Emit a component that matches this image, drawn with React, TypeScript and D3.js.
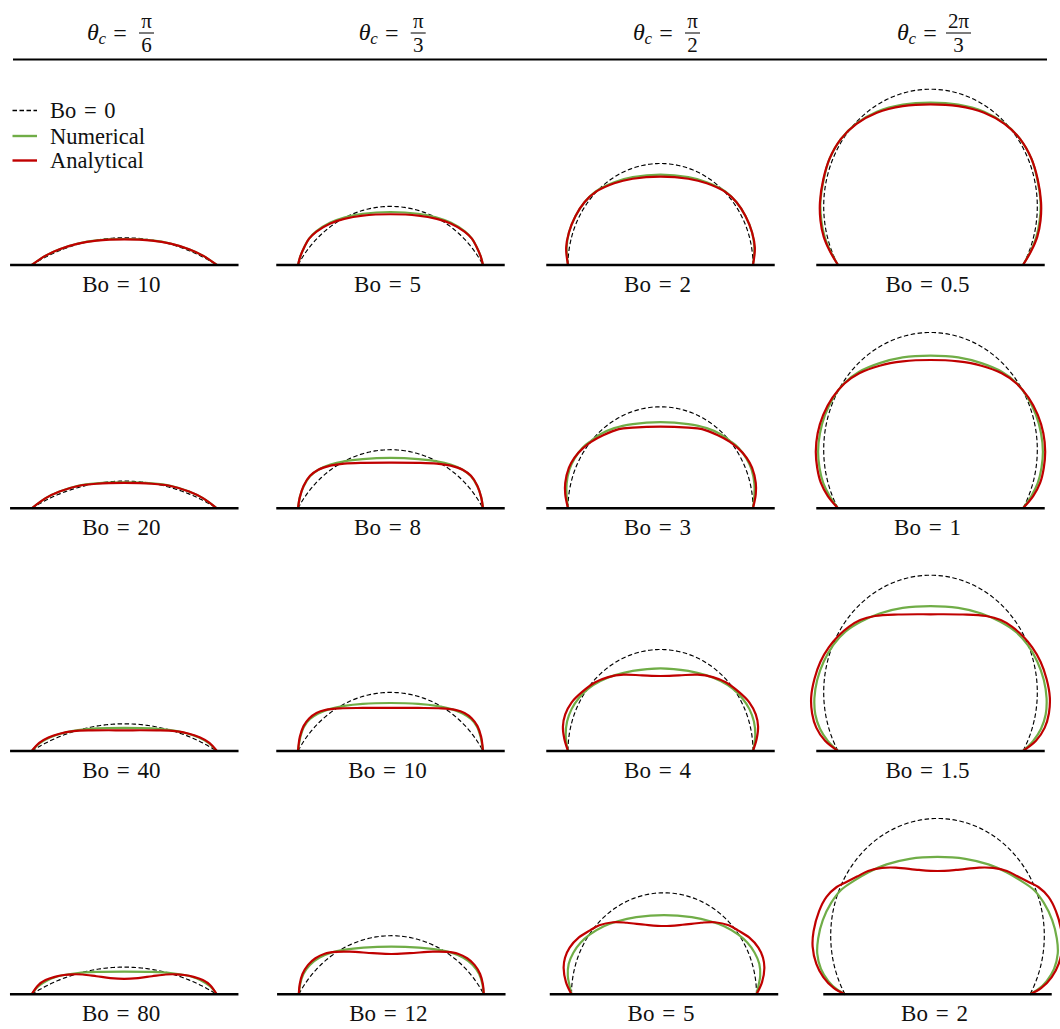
import React from 'react';
import * as d3 from 'd3';

type Pt = [number, number];

// ---------- data ----------
const angleNumerators = ['π', 'π', 'π', '2π'];
const angleDenominators = ['6', '3', '2', '3'];
const contactAngles = [Math.PI / 6, Math.PI / 3, Math.PI / 2, (2 * Math.PI) / 3];

// Bond numbers per column (rows top -> bottom)
const bondPi6 = [10, 20, 40, 80];
const bondPi3 = [5, 8, 10, 12];
const bondPi2 = [2, 3, 4, 5];
const bond2Pi3 = [0.5, 1, 1.5, 2];

// Half profiles [r / a, z / a], apex -> contact line (mirrored about the axis)
const analyticalPi6: Pt[][] = [
  [[0, 0.252], [0.3, 0.24], [0.5, 0.21], [0.7, 0.155], [0.85, 0.092], [1, 0]],
  [[0, 0.25], [0.3, 0.242], [0.5, 0.22], [0.7, 0.165], [0.85, 0.1], [1, 0]],
  [[0, 0.204], [0.35, 0.203], [0.55, 0.195], [0.7, 0.17], [0.82, 0.132], [0.92, 0.08], [1, 0]],
  [[0, 0.152], [0.15, 0.16], [0.3, 0.178], [0.45, 0.195], [0.55, 0.197], [0.65, 0.19], [0.75, 0.172], [0.85, 0.14], [0.93, 0.09], [1, 0]],
];
const numericalPi6: Pt[][] = [
  [[0, 0.256], [0.3, 0.243], [0.5, 0.212], [0.7, 0.155], [0.85, 0.092], [1, 0]],
  [[0, 0.256], [0.3, 0.246], [0.5, 0.222], [0.7, 0.165], [0.85, 0.1], [1, 0]],
  [[0, 0.227], [0.3, 0.222], [0.5, 0.205], [0.65, 0.18], [0.8, 0.135], [0.91, 0.08], [1, 0]],
  [[0, 0.223], [0.3, 0.22], [0.5, 0.21], [0.65, 0.19], [0.78, 0.158], [0.88, 0.11], [0.95, 0.06], [1, 0]],
];

const analyticalPi3: Pt[][] = [
  [[0, 0.5], [0.3, 0.487], [0.5, 0.455], [0.65, 0.41], [0.8, 0.33], [0.88, 0.26], [0.93, 0.18], [0.975, 0.085], [1, 0]],
  [[0, 0.45], [0.3, 0.448], [0.5, 0.44], [0.65, 0.42], [0.78, 0.38], [0.87, 0.32], [0.94, 0.22], [0.98, 0.11], [1, 0]],
  [[0, 0.424], [0.3, 0.424], [0.55, 0.42], [0.7, 0.405], [0.8, 0.375], [0.88, 0.32], [0.94, 0.245], [0.98, 0.14], [1, 0]],
  [[0, 0.397], [0.2, 0.405], [0.45, 0.42], [0.6, 0.418], [0.72, 0.4], [0.82, 0.355], [0.9, 0.29], [0.96, 0.2], [0.99, 0.1], [1, 0]],
];
const numericalPi3: Pt[][] = [
  [[0, 0.522], [0.3, 0.505], [0.5, 0.468], [0.65, 0.418], [0.8, 0.333], [0.88, 0.26], [0.93, 0.18], [0.975, 0.085], [1, 0]],
  [[0, 0.496], [0.3, 0.485], [0.5, 0.463], [0.65, 0.43], [0.78, 0.38], [0.87, 0.315], [0.94, 0.215], [0.98, 0.11], [1, 0]],
  [[0, 0.473], [0.3, 0.465], [0.5, 0.445], [0.65, 0.415], [0.78, 0.37], [0.87, 0.315], [0.935, 0.24], [0.975, 0.135], [1, 0]],
  [[0, 0.47], [0.3, 0.46], [0.5, 0.44], [0.65, 0.41], [0.78, 0.36], [0.88, 0.29], [0.95, 0.2], [0.985, 0.1], [1, 0]],
];

const analyticalPi2: Pt[][] = [
  [[0, 0.87], [0.3, 0.85], [0.5, 0.805], [0.7, 0.72], [0.82, 0.62], [0.92, 0.48], [0.99, 0.32], [1.02, 0.17], [1.0, 0]],
  [[0, 0.805], [0.3, 0.795], [0.45, 0.78], [0.62, 0.72], [0.75, 0.655], [0.84, 0.59], [0.93, 0.5], [0.99, 0.4], [1.03, 0.25], [1.03, 0.14], [1.0, 0]],
  [[0, 0.739], [0.2, 0.745], [0.4, 0.752], [0.565, 0.728], [0.71, 0.675], [0.85, 0.58], [0.96, 0.48], [1.03, 0.36], [1.055, 0.24], [1.04, 0.12], [1.0, 0]],
  [[0, 0.673], [0.2, 0.685], [0.4, 0.705], [0.55, 0.71], [0.7, 0.68], [0.8, 0.63], [0.92, 0.56], [1.02, 0.46], [1.07, 0.36], [1.085, 0.26], [1.06, 0.12], [1.0, 0]],
];
const numericalPi2: Pt[][] = [
  [[0, 0.89], [0.3, 0.865], [0.5, 0.815], [0.7, 0.725], [0.82, 0.62], [0.92, 0.48], [0.99, 0.32], [1.015, 0.17], [1.0, 0]],
  [[0, 0.85], [0.3, 0.83], [0.5, 0.79], [0.65, 0.73], [0.75, 0.665], [0.84, 0.6], [0.93, 0.49], [0.985, 0.38], [1.015, 0.24], [1.015, 0.13], [1, 0]],
  [[0, 0.815], [0.3, 0.79], [0.5, 0.745], [0.65, 0.69], [0.78, 0.615], [0.88, 0.525], [0.96, 0.415], [1.01, 0.29], [1.025, 0.16], [1.015, 0.07], [1, 0]],
  [[0, 0.781], [0.3, 0.76], [0.5, 0.72], [0.65, 0.67], [0.8, 0.59], [0.9, 0.51], [0.98, 0.41], [1.03, 0.3], [1.04, 0.18], [1.02, 0.08], [1.0, 0]],
];

const analytical2Pi3: Pt[][] = [
  [[0, 1.583], [0.3, 1.565], [0.58, 1.5], [0.8, 1.39], [0.97, 1.24], [1.09, 1.05], [1.16, 0.84], [1.195, 0.62], [1.19, 0.44], [1.155, 0.28], [1.09, 0.14], [1.0, 0]],
  [[0, 1.461], [0.3, 1.447], [0.55, 1.405], [0.77, 1.33], [0.93, 1.23], [1.06, 1.09], [1.16, 0.92], [1.22, 0.74], [1.24, 0.56], [1.225, 0.4], [1.185, 0.25], [1.11, 0.12], [1, 0]],
  [[0, 1.347], [0.35, 1.345], [0.6, 1.33], [0.76, 1.29], [0.88, 1.225], [1.0, 1.13], [1.1, 1.02], [1.19, 0.88], [1.255, 0.71], [1.29, 0.53], [1.28, 0.37], [1.235, 0.23], [1.14, 0.1], [1.0, 0]],
  [[0, 1.215], [0.2, 1.225], [0.45, 1.248], [0.6, 1.245], [0.75, 1.215], [0.87, 1.16], [1.0, 1.1], [1.09, 1.057], [1.2, 0.96], [1.28, 0.82], [1.34, 0.62], [1.35, 0.47], [1.31, 0.3], [1.235, 0.17], [1.12, 0.06], [1.0, 0]],
];
const numerical2Pi3: Pt[][] = [
  [[0, 1.6], [0.3, 1.58], [0.58, 1.51], [0.8, 1.395], [0.97, 1.24], [1.09, 1.05], [1.155, 0.84], [1.19, 0.62], [1.18, 0.44], [1.145, 0.28], [1.085, 0.14], [1, 0]],
  [[0, 1.504], [0.3, 1.487], [0.55, 1.43], [0.77, 1.345], [0.93, 1.235], [1.05, 1.09], [1.14, 0.92], [1.195, 0.74], [1.215, 0.56], [1.2, 0.4], [1.16, 0.25], [1.09, 0.12], [1, 0]],
  [[0, 1.428], [0.3, 1.41], [0.55, 1.355], [0.75, 1.275], [0.92, 1.175], [1.05, 1.045], [1.155, 0.88], [1.225, 0.7], [1.255, 0.52], [1.245, 0.36], [1.195, 0.22], [1.11, 0.1], [1, 0]],
  [[0, 1.353], [0.3, 1.335], [0.55, 1.28], [0.75, 1.2], [0.9, 1.12], [1.04, 1.03], [1.15, 0.9], [1.24, 0.73], [1.29, 0.55], [1.3, 0.4], [1.26, 0.25], [1.18, 0.13], [1.09, 0.05], [1.0, 0]],
];

const bondByColumn = [bondPi6, bondPi3, bondPi2, bond2Pi3];
const analyticalByColumn = [analyticalPi6, analyticalPi3, analyticalPi2, analytical2Pi3];
const numericalByColumn = [numericalPi6, numericalPi3, numericalPi2, numerical2Pi3];

const legendLabels = ['Bo = 0', 'Numerical', 'Analytical'];

// ---------- layout / style ----------
const W = 1060;
const H = 1029;
const KX = 92.5; // px per contact radius (horizontal)
const KY = 101.5; // px per contact radius (vertical)
const rowBaseY = [265, 508.3, 751, 994.3];
const colCenterX = [124.3, 390.5, 660.5, 930.5];
const lastRowCenterX = [124.2, 391.3, 664, 937.5];
const headerEqX = [120, 391.7, 666, 930];
const RED = '#c00000';
const GREEN = '#70ad47';
const FONT = "'Liberation Serif'";
const DASH = '4.5,2.5';

function mirror(half: Pt[]): Pt[] {
  const left = half.slice().reverse().map(([a, b]) => [-a, b] as Pt);
  return [...left, ...half.slice(1)];
}

function Panel({ col, row }: { col: number; row: number }) {
  const cx = row === 3 ? lastRowCenterX[col] : colCenterX[col];
  const by = rowBaseY[row];
  const x = d3.scaleLinear().domain([-1, 1]).range([cx - KX, cx + KX]);
  const y = d3.scaleLinear().domain([0, 1]).range([by, by - KY]);
  const smooth = d3
    .line<Pt>()
    .x((d) => x(d[0]))
    .y((d) => y(d[1]))
    .curve(d3.curveCatmullRom.alpha(0.5));
  const straight = d3
    .line<Pt>()
    .x((d) => x(d[0]))
    .y((d) => y(d[1]));

  const th = contactAngles[col];
  const R = 1 / Math.sin(th);
  const cap: Pt[] = d3.range(0, 161).map((i) => {
    const t = -th + (2 * th * i) / 160;
    return [R * Math.sin(t), R * (Math.cos(t) - Math.cos(th))] as Pt;
  });

  const num = mirror(numericalByColumn[col][row]);
  const ana = mirror(analyticalByColumn[col][row]);
  const bo = bondByColumn[col][row];

  return (
    <g>
      <path d={straight(cap) || ''} fill="none" stroke="#000" strokeWidth={1.15} strokeDasharray={DASH} />
      <path d={smooth(num) || ''} fill="none" stroke={GREEN} strokeWidth={2.2} />
      <path d={smooth(ana) || ''} fill="none" stroke={RED} strokeWidth={2.2} />
      <line x1={x(-1.235)} x2={x(1.235)} y1={y(0)} y2={y(0)} stroke="#000" strokeWidth={2.5} />
      <text
        x={cx - 3}
        y={by + 26.5}
        textAnchor="middle"
        fontSize={23}
        style={{ fontFamily: FONT, wordSpacing: '2px' }}
        fill="#111"
      >
        {`Bo = ${bo}`}
      </text>
    </g>
  );
}

function Header({ col }: { col: number }) {
  const eq = headerEqX[col];
  const barW = angleNumerators[col].length > 1 ? 25 : 15;
  const barX = eq + (barW > 15 ? 16 : 19);
  return (
    <g style={{ fontFamily: FONT }} fill="#111">
      <text x={eq - 33} y={40} fontSize={24} fontStyle="italic">
        θ
      </text>
      <text x={eq - 21.5} y={43.5} fontSize={17} fontStyle="italic">
        c
      </text>
      <text x={eq} y={40.5} fontSize={24} textAnchor="middle">
        =
      </text>
      <line x1={barX} x2={barX + barW} y1={33} y2={33} stroke="#111" strokeWidth={1.1} />
      <text x={barX + barW / 2} y={27.5} fontSize={21} textAnchor="middle">
        {angleNumerators[col]}
      </text>
      <text x={barX + barW / 2} y={52} fontSize={21} textAnchor="middle">
        {angleDenominators[col]}
      </text>
    </g>
  );
}

function Legend() {
  const ys = [110.5, 136, 160.5];
  const styles = [
    { stroke: '#000', w: 1.3, dash: DASH },
    { stroke: GREEN, w: 2.4, dash: undefined },
    { stroke: RED, w: 2.4, dash: undefined },
  ];
  return (
    <g>
      {legendLabels.map((lab, i) => (
        <g key={lab}>
          <line
            x1={12.5}
            x2={37}
            y1={ys[i]}
            y2={ys[i]}
            stroke={styles[i].stroke}
            strokeWidth={styles[i].w}
            strokeDasharray={styles[i].dash}
          />
          <text x={50} y={ys[i] + 7.5} fontSize={22.5} fill="#111" style={{ fontFamily: FONT, wordSpacing: '2px' }}>
            {lab}
          </text>
        </g>
      ))}
    </g>
  );
}

export default function App() {
  const cols = [0, 1, 2, 3];
  const rows = [0, 1, 2, 3];
  return (
    <svg
      width={W}
      height={H}
      viewBox={`0 0 ${W} ${H}`}
      style={{ position: 'absolute', left: 0, top: 0, overflow: 'hidden', background: '#fff' }}
    >
      <rect x={0} y={0} width={W} height={H} fill="#fff" />
      {cols.map((c) => (
        <Header key={`h${c}`} col={c} />
      ))}
      <line x1={13} x2={1047} y1={59.5} y2={59.5} stroke="#000" strokeWidth={2} />
      <Legend />
      {cols.map((c) => rows.map((r) => <Panel key={`p${c}-${r}`} col={c} row={r} />))}
    </svg>
  );
}
